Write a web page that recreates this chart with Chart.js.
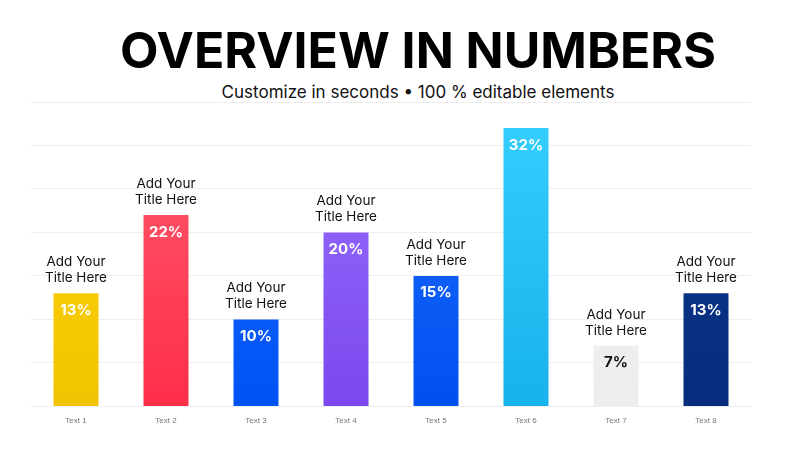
<!DOCTYPE html>
<html><head><meta charset="utf-8">
<script src="https://cdn.jsdelivr.net/npm/chart.js@4/dist/chart.umd.min.js"></script>
<style>
html,body{margin:0;padding:0;background:#fff;width:800px;height:450px;overflow:hidden;font-family:Inter,'Noto Sans',sans-serif}
h1{position:absolute;left:0;width:836px;top:20px;margin:0;text-align:center;font:700 50px Inter,sans-serif;color:#000;letter-spacing:0px}
h2{position:absolute;left:0;width:836px;top:82px;margin:0;text-align:center;font:400 17px Inter,sans-serif;color:#111}
#wrap{position:absolute;left:0;top:0;width:800px;height:450px}
</style></head><body>
<h1>OVERVIEW IN NUMBERS</h1>
<h2>Customize in seconds • 100 % editable elements</h2>
<div id="wrap"><canvas id="c" width="800" height="450"></canvas></div>
<script>
const categories=["Text 1","Text 2","Text 3","Text 4","Text 5","Text 6","Text 7","Text 8"];
const values=[13,22,10,20,15,32,7,13];
const titles=["Add Your|Title Here","Add Your|Title Here","Add Your|Title Here","Add Your|Title Here","Add Your|Title Here","","Add Your|Title Here","Add Your|Title Here"];
const colorsTop=["#FFD60A","#FF5C70","#1A6BFF","#9A72FF","#1F6EFF","#36CFFF","#F3F2F5","#0A3C90"];
const colorsBot=["#F0C400","#FF2E48","#0052F5","#7A48EE","#0050F0","#18B2EC","#EEECEF","#062C7C"];
const labelColors=["#fff","#fff","#fff","#fff","#fff","#fff","#111","#fff"];
const labelPlugin={id:'lbl',afterDatasetsDraw(chart){
 const ctx=chart.ctx;const meta=chart.getDatasetMeta(0);
 meta.data.forEach((b,i)=>{
  ctx.save();ctx.textAlign='center';
  ctx.fillStyle=labelColors[i];ctx.font='700 15px Inter,sans-serif';ctx.textBaseline='middle';
  ctx.fillText(values[i]+'%',b.x,b.y+17);
  if(titles[i]){const ls=titles[i].split('|');ctx.fillStyle='#111';ctx.font='400 13.5px Inter,sans-serif';ctx.textBaseline='alphabetic';
   ctx.fillText(ls[0],b.x,b.y-27);ctx.fillText(ls[1],b.x,b.y-11);}
  ctx.restore();
 });
}};
new Chart(document.getElementById('c'),{type:'bar',
 data:{labels:categories,datasets:[{data:values,
  backgroundColor:(c)=>{const a=c.chart.chartArea;if(!a)return colorsTop[c.dataIndex];const g=c.chart.ctx.createLinearGradient(0,a.top,0,a.bottom);g.addColorStop(0,colorsTop[c.dataIndex]);g.addColorStop(1,colorsBot[c.dataIndex]);return g;},
  categoryPercentage:1,barPercentage:0.5}]},
 options:{responsive:false,animation:false,
  layout:{padding:{left:31,right:49,top:102,bottom:22}},
  plugins:{legend:{display:false},tooltip:{enabled:false}},
  scales:{x:{grid:{display:false},border:{display:true,color:'#eee'},ticks:{color:'#777',font:{size:8},padding:2}},
   y:{min:0,max:35,ticks:{display:false,stepSize:5},grid:{color:'#eee',drawTicks:false},border:{display:false}}}},
 plugins:[labelPlugin]});
</script></body></html>
